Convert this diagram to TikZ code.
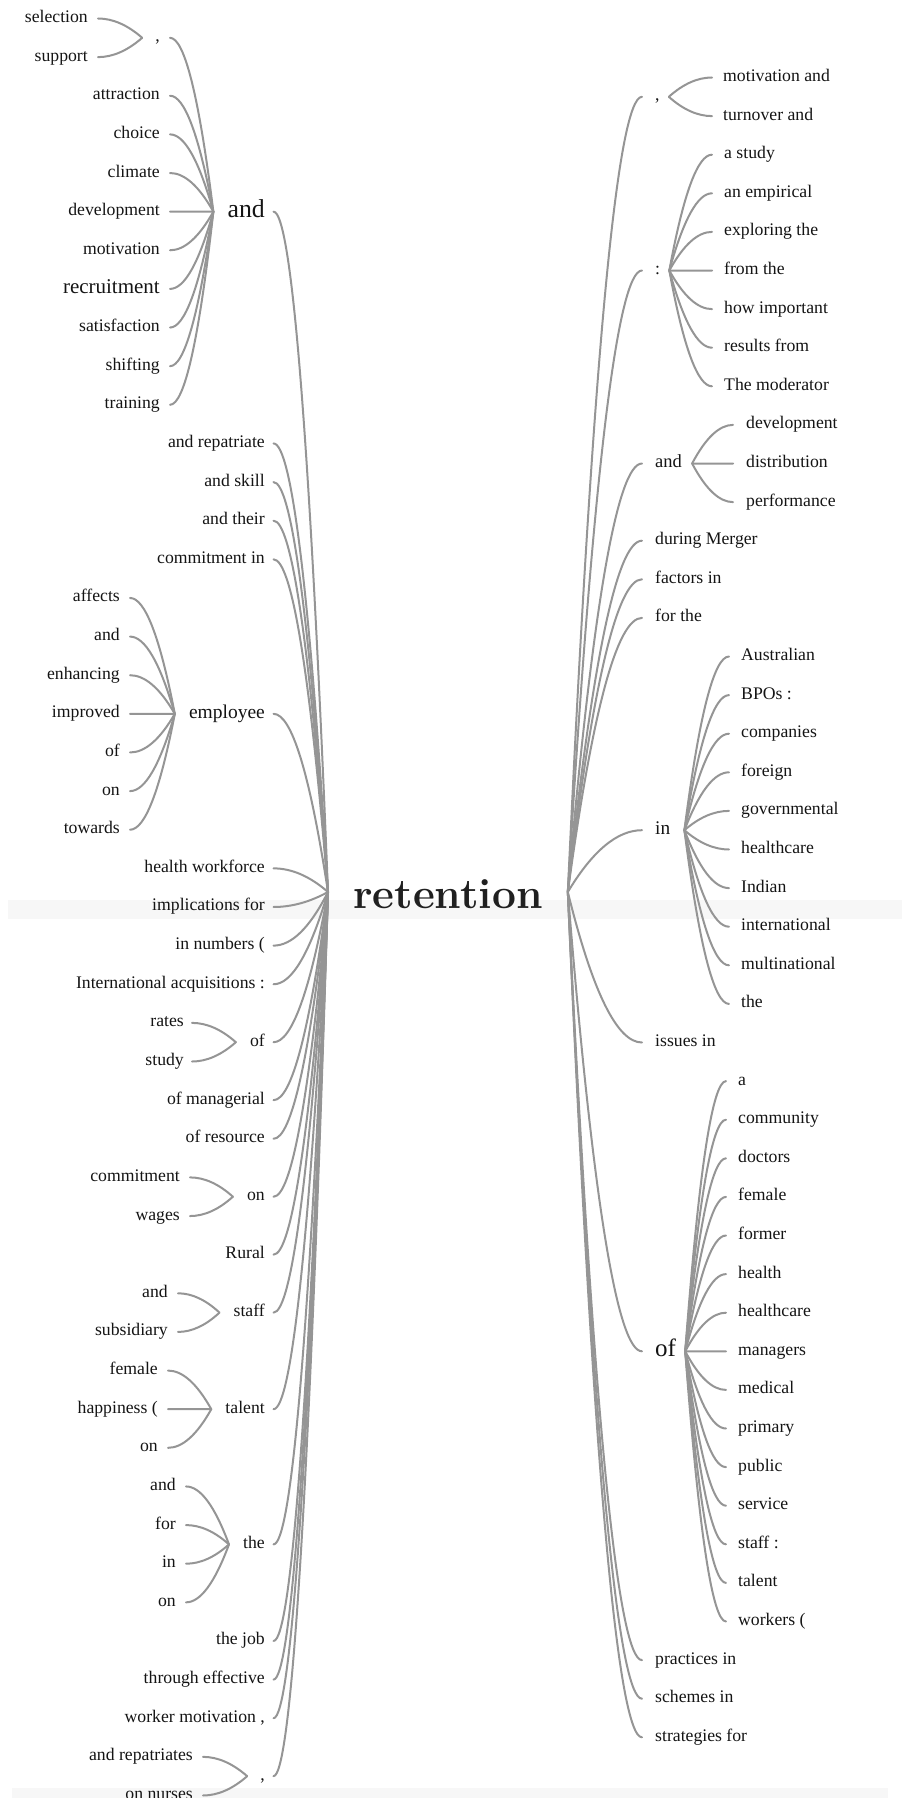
\documentclass[tikz,border=0pt]{standalone}
\usepackage{fontspec}
\newfontfamily\wf{Liberation Serif}
\usetikzlibrary{calc}
\definecolor{lnkc}{HTML}{959595}
\definecolor{txtc}{HTML}{141414}
\definecolor{rtc}{HTML}{202020}
\definecolor{bandc}{HTML}{F7F7F7}
\newcommand\ylft[1]{{18.5+38.63*(#1)}}
\newcommand\yrgt[1]{{77.5+38.6*(#1)}}
\begin{document}
\begin{tikzpicture}[x=1pt,y=-1pt,
  lnk/.style={draw=lnkc, line width=2pt, line cap=round,
    to path={let \p1=(\tikztostart), \p2=(\tikztotarget),
      \p3=($(\p1)!1/3!(\p2)$), \p4=($(\p1)!2/3!(\p2)$) in
      .. controls (\x3,\y1) and (\x4,\y3) .. (\p2)}},
  wn/.style={font=\wf\fontsize{17.7}{20}\selectfont, inner sep=0pt, text height=12pt, text depth=4pt, text=txtc},
  wA/.style={font=\wf\fontsize{25.8}{28}\selectfont, inner sep=0pt, text height=17.5pt, text depth=5.9pt, text=txtc},
  wR/.style={font=\wf\fontsize{21}{24}\selectfont, inner sep=0pt, text height=14.4pt, text depth=5pt, text=txtc},
  wE/.style={font=\wf\fontsize{19.5}{22}\selectfont, inner sep=0pt, text height=13.5pt, text depth=4.7pt, text=txtc},
  wO/.style={font=\wf\fontsize{25}{28}\selectfont, inner sep=0pt, text height=17pt, text depth=5.8pt, text=txtc},
  wI/.style={font=\wf\fontsize{19.3}{22}\selectfont, inner sep=0pt, text height=13.3pt, text depth=4.7pt, text=txtc},
  wD/.style={font=\wf\fontsize{18.5}{21}\selectfont, inner sep=0pt, text height=12.6pt, text depth=4.4pt, text=txtc},
  rt/.style={font=\rmfamily\bfseries\fontsize{42.5}{46}\selectfont, inner sep=0pt, text=rtc}
]
\useasboundingbox (0,0) rectangle (902,1798);
\clip (0,0) rectangle (902,1798);
% background bands
\fill[bandc] (8,900) rectangle (902,919);
\fill[bandc] (12,1788) rectangle (888,1798);

% root
\node[rt, anchor=base west] (ret) at (353,908) {retention};
\coordinate (rootL) at ([shift={(-25,-16)}]ret.base west);
\coordinate (rootR) at ([shift={(25,-16)}]ret.base east);

% ---------------- left level 1 ----------------
\node[wA,anchor=east] (LAnd) at (265,\ylft{5}) {and};
\node[wn,anchor=east] (LRep) at (265,\ylft{11}) {and repatriate};
\node[wn,anchor=east] (LSkill) at (265,\ylft{12}) {and skill};
\node[wn,anchor=east] (LTheir) at (265,\ylft{13}) {and their};
\node[wn,anchor=east] (LComIn) at (265,\ylft{14}) {commitment in};
\node[wE,anchor=east] (LEmp) at (265,\ylft{18}) {employee};
\node[wn,anchor=east] (LHealth) at (265,\ylft{22}) {health workforce};
\node[wn,anchor=east] (LImpl) at (265,\ylft{23}) {implications for};
\node[wn,anchor=east] (LNum) at (265,\ylft{24}) {in numbers (};
\node[wn,anchor=east] (LIntl) at (265,\ylft{25}) {International acquisitions :};
\node[wn,anchor=east] (LOf) at (265,\ylft{26.5}) {of};
\node[wn,anchor=east] (LOfMan) at (265,\ylft{28}) {of managerial};
\node[wn,anchor=east] (LOfRes) at (265,\ylft{29}) {of resource};
\node[wn,anchor=east] (LOn) at (265,\ylft{30.5}) {on};
\node[wn,anchor=east] (LRural) at (265,\ylft{32}) {Rural};
\node[wn,anchor=east] (LStaff) at (265,\ylft{33.5}) {staff};
\node[wn,anchor=east] (LTalent) at (265,\ylft{36}) {talent};
\node[wn,anchor=east] (LThe) at (265,\ylft{39.5}) {the};
\node[wn,anchor=east] (LJob) at (265,\ylft{42}) {the job};
\node[wn,anchor=east] (LThrough) at (265,\ylft{43}) {through effective};
\node[wn,anchor=east] (LWorker) at (265,\ylft{44}) {worker motivation ,};
\node[wn,anchor=east] (LComma) at (265,\ylft{45.5}) {,};

\foreach \n in {LAnd,LRep,LSkill,LTheir,LComIn,LEmp,LHealth,LImpl,LNum,LIntl,LOf,LOfMan,LOfRes,LOn,LRural,LStaff,LTalent,LThe,LJob,LThrough,LWorker,LComma}
  \draw[lnk] ([xshift=8.5pt]\n.east) to (rootL);

% convergence points of left parents
\coordinate (cLAnd) at ([xshift=-14pt]LAnd.west);
\coordinate (cLEmp) at ([xshift=-14pt]LEmp.west);
\coordinate (cLOf) at ([xshift=-14pt]LOf.west);
\coordinate (cLOn) at ([xshift=-14pt]LOn.west);
\coordinate (cLStaff) at ([xshift=-14pt]LStaff.west);
\coordinate (cLTalent) at ([xshift=-14pt]LTalent.west);
\coordinate (cLThe) at ([xshift=-14pt]LThe.west);
\coordinate (cLComma) at ([xshift=-13pt]LComma.west);

% ---------------- left level 2 ----------------
\node[wn,anchor=east] (LAc) at (160,\ylft{0.5}) {,};
\draw[lnk] ([xshift=10pt]LAc.east) to (cLAnd);
\coordinate (cLAc) at ([xshift=-13pt]LAc.west);
\node[wn,anchor=east] (LAcSel) at (88,\ylft{0}) {selection};
\node[wn,anchor=east] (LAcSup) at (88,\ylft{1}) {support};
\draw[lnk] ([xshift=10pt]LAcSel.east) to (cLAc);
\draw[lnk] ([xshift=10pt]LAcSup.east) to (cLAc);

\foreach \t [count=\k from 2] in {attraction,choice,climate,development,motivation}{
  \node[wn,anchor=east] (LA\k) at (160,\ylft{\k}) {\t};
  \draw[lnk] ([xshift=10pt]LA\k.east) to (cLAnd);
}
\node[wR,anchor=east] (LA7) at (160,\ylft{7}) {recruitment};
\draw[lnk] ([xshift=10pt]LA7.east) to (cLAnd);
\foreach \t [count=\k from 8] in {satisfaction,shifting,training}{
  \node[wn,anchor=east] (LA\k) at (160,\ylft{\k}) {\t};
  \draw[lnk] ([xshift=10pt]LA\k.east) to (cLAnd);
}

\foreach \t [count=\k from 15] in {affects,and,enhancing,improved,of,on,towards}{
  \node[wn,anchor=east] (LE\k) at (120,\ylft{\k}) {\t};
  \draw[lnk] ([xshift=10pt]LE\k.east) to (cLEmp);
}
\foreach \t [count=\k from 26] in {rates,study}{
  \node[wn,anchor=east] (LO\k) at (184,\ylft{\k}) {\t};
  \draw[lnk] ([xshift=8pt]LO\k.east) to (cLOf);
}
\foreach \t [count=\k from 30] in {commitment,wages}{
  \node[wn,anchor=east] (LN\k) at (180,\ylft{\k}) {\t};
  \draw[lnk] ([xshift=10pt]LN\k.east) to (cLOn);
}
\foreach \t [count=\k from 33] in {and,subsidiary}{
  \node[wn,anchor=east] (LS\k) at (168,\ylft{\k}) {\t};
  \draw[lnk] ([xshift=10pt]LS\k.east) to (cLStaff);
}
\foreach \t [count=\k from 35] in {female,happiness (,on}{
  \node[wn,anchor=east] (LT\k) at (158,\ylft{\k}) {\t};
  \draw[lnk] ([xshift=10pt]LT\k.east) to (cLTalent);
}
\foreach \t [count=\k from 38] in {and,for,in,on}{
  \node[wn,anchor=east] (LH\k) at (176,\ylft{\k}) {\t};
  \draw[lnk] ([xshift=10pt]LH\k.east) to (cLThe);
}
\foreach \t [count=\k from 45] in {and repatriates,on nurses}{
  \node[wn,anchor=east] (LC\k) at (193,\ylft{\k}) {\t};
  \draw[lnk] ([xshift=10pt]LC\k.east) to (cLComma);
}

% ---------------- right level 1 ----------------
\node[wn,anchor=west] (RC) at (655,\yrgt{0.5}) {,};
\node[wn,anchor=west] (RColon) at (655,\yrgt{5}) {:};
\node[wD,anchor=west] (RAnd) at (655,\yrgt{10}) {and};
\node[wn,anchor=west] (RDuring) at (655,\yrgt{12}) {during Merger};
\node[wn,anchor=west] (RFactors) at (655,\yrgt{13}) {factors in};
\node[wn,anchor=west] (RForThe) at (655,\yrgt{14}) {for the};
\node[wI,anchor=west] (RIn) at (655,\yrgt{19.5}) {in};
\node[wn,anchor=west] (RIssues) at (655,\yrgt{25}) {issues in};
\node[wO,anchor=west] (ROf) at (655,\yrgt{33}) {of};
\node[wn,anchor=west] (RPract) at (655,\yrgt{41}) {practices in};
\node[wn,anchor=west] (RSchem) at (655,\yrgt{42}) {schemes in};
\node[wn,anchor=west] (RStrat) at (655,\yrgt{43}) {strategies for};

\foreach \n in {RC,RColon,RAnd,RDuring,RFactors,RForThe,RIn,RIssues,ROf,RPract,RSchem,RStrat}
  \draw[lnk] ([xshift=-13pt]\n.west) to (rootR);

\coordinate (cRC) at ([xshift=9pt]RC.east);
\coordinate (cRColon) at ([xshift=9pt]RColon.east);
\coordinate (cRAnd) at ([xshift=10pt]RAnd.east);
\coordinate (cRIn) at ([xshift=14pt]RIn.east);
\coordinate (cROf) at ([xshift=9pt]ROf.east);

% ---------------- right level 2 ----------------
\foreach \t [count=\k from 0] in {motivation and,turnover and}{
  \node[wn,anchor=west] (RCk\k) at (723,\yrgt{\k}) {\t};
  \draw[lnk] ([xshift=-11pt]RCk\k.west) to (cRC);
}
\foreach \t [count=\k from 2] in {a study,an empirical,exploring the,from the,how important,results from,The moderator}{
  \node[wn,anchor=west] (RPk\k) at (724,\yrgt{\k}) {\t};
  \draw[lnk] ([xshift=-12pt]RPk\k.west) to (cRColon);
}
\foreach \t [count=\k from 9] in {development,distribution,performance}{
  \node[wn,anchor=west] (RAk\k) at (746,\yrgt{\k}) {\t};
  \draw[lnk] ([xshift=-13pt]RAk\k.west) to (cRAnd);
}
\foreach \t [count=\k from 15] in {Australian,BPOs :,companies,foreign,governmental,healthcare,Indian,international,multinational,the}{
  \node[wn,anchor=west] (RIk\k) at (741,\yrgt{\k}) {\t};
  \draw[lnk] ([xshift=-12pt]RIk\k.west) to (cRIn);
}
\foreach \t [count=\k from 26] in {a,community,doctors,female,former,health,healthcare,managers,medical,primary,public,service,staff :,talent,workers (}{
  \node[wn,anchor=west] (ROk\k) at (738,\yrgt{\k}) {\t};
  \draw[lnk] ([xshift=-12pt]ROk\k.west) to (cROf);
}
\end{tikzpicture}
\end{document}
